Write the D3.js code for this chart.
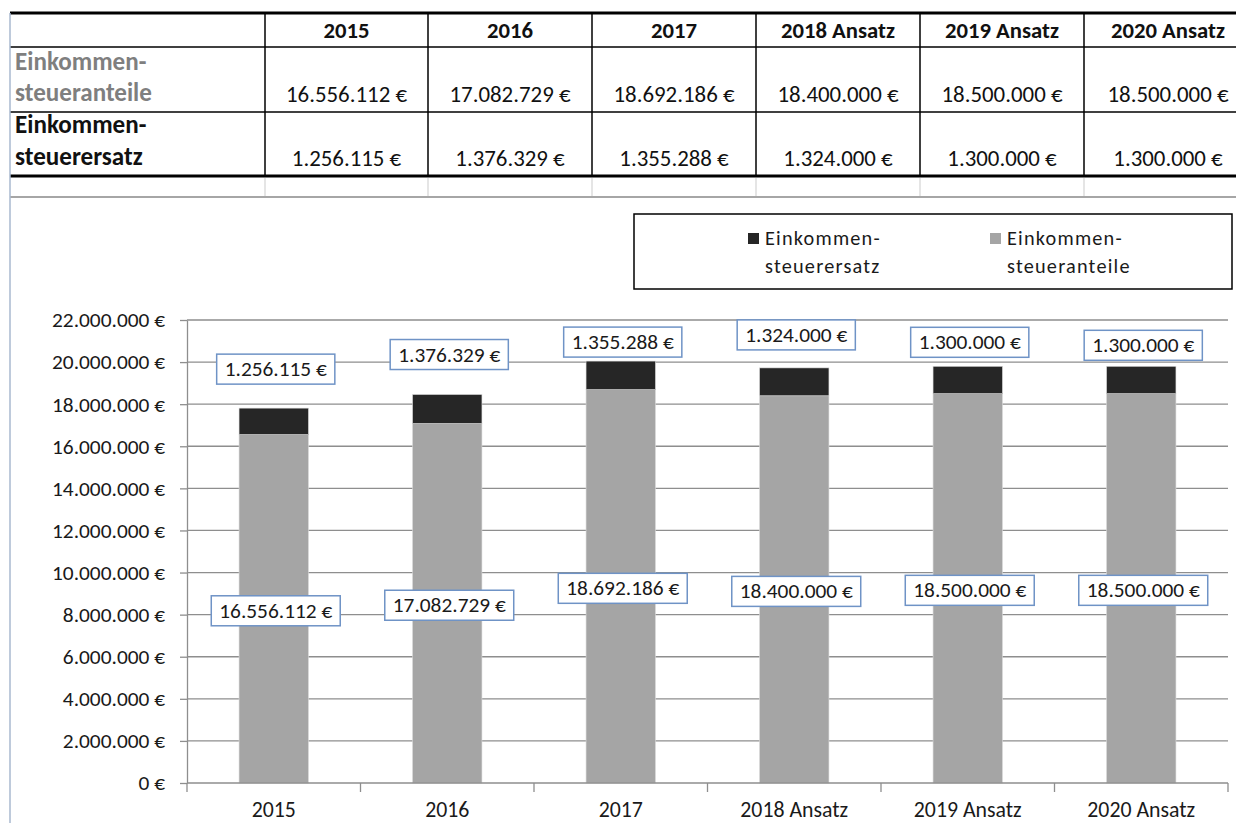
<!DOCTYPE html>
<html>
<head>
<meta charset="utf-8">
<script src="https://cdn.jsdelivr.net/npm/d3@7"></script>
<style>
  html, body { margin: 0; padding: 0; background: #fff; }
  svg { display: block; font-family: Carlito, Calibri, Lato, "Open Sans", sans-serif; }
</style>
</head>
<body>
<svg id="chart" width="1236" height="823"></svg>
<script>
// ---------- data ----------
const categories = ["2015", "2016", "2017", "2018 Ansatz", "2019 Ansatz", "2020 Ansatz"];
const anteile = [16556112, 17082729, 18692186, 18400000, 18500000, 18500000];   // Einkommensteueranteile
const ersatz  = [1256115, 1376329, 1355288, 1324000, 1300000, 1300000];         // Einkommensteuerersatz
const yTicks  = [0, 2e6, 4e6, 6e6, 8e6, 10e6, 12e6, 14e6, 16e6, 18e6, 20e6, 22e6];
const seriesNames = [["Einkommen-", "steuerersatz"], ["Einkommen-", "steueranteile"]];
const rowLabels = [["Einkommen-", "steueranteile"], ["Einkommen-", "steuerersatz"]];

// ---------- layout (manual label nudges as in the original) ----------
const ersatzLabelLift = [39, 40, 19, 33, 24, 21];

const de = d3.formatLocale({decimal: ",", thousands: ".", grouping: [3], currency: ["", " €"]});
const fmt = de.format("$,.0f");

const svg = d3.select("#chart");
const FONT = 'Carlito, Calibri, Lato, "Open Sans", sans-serif';

// measure helper to size fonts to target widths
function fitSize(str, target, weight) {
  const t = svg.append("text").attr("font-size", 100).attr("font-weight", weight || "normal").text(str);
  const w = t.node().getComputedTextLength();
  t.remove();
  return 100 * target / w;
}

const fsY     = fitSize("22.000.000 €", 113);
const fsX     = fitSize("2018 Ansatz", 108);
const fsLab   = fitSize("16.556.112 €", 113);
const fsHead  = fitSize("2018 Ansatz", 114, "bold");
const fsVal   = fitSize("16.556.112 €", 121);
const fsRow   = fitSize("steueranteile", 137, "bold");
const fsLeg   = fitSize("Einkommen-", 104);

// ---------- table ----------
const tbl = svg.append("g");
const colEdges = [10, 265, 428, 592, 756, 920, 1084, 1252];
tbl.append("line").attr("x1", 10).attr("x2", 1236).attr("y1", 13).attr("y2", 13).attr("stroke", "#000").attr("stroke-width", 3);
tbl.append("line").attr("x1", 10).attr("x2", 1236).attr("y1", 47).attr("y2", 47).attr("stroke", "#000").attr("stroke-width", 1.5);
tbl.append("line").attr("x1", 10).attr("x2", 1236).attr("y1", 112).attr("y2", 112).attr("stroke", "#000").attr("stroke-width", 1.5);
tbl.append("line").attr("x1", 10).attr("x2", 1236).attr("y1", 176).attr("y2", 176).attr("stroke", "#000").attr("stroke-width", 3);
tbl.append("line").attr("x1", 10).attr("x2", 1236).attr("y1", 197).attr("y2", 197).attr("stroke", "#a6a6a6").attr("stroke-width", 2);
colEdges.slice(1, 7).forEach(x => {
  tbl.append("line").attr("x1", x).attr("x2", x).attr("y1", 13).attr("y2", 176).attr("stroke", "#000").attr("stroke-width", 1.5);
  tbl.append("line").attr("x1", x).attr("x2", x).attr("y1", 178).attr("y2", 196).attr("stroke", "#dcdcdc").attr("stroke-width", 1.5);
});
// left sheet border
svg.append("line").attr("x1", 10).attr("x2", 10).attr("y1", 13).attr("y2", 823).attr("stroke", "#a9b8cf").attr("stroke-width", 1.5);

categories.forEach((c, i) => {
  const cx = (colEdges[i + 1] + colEdges[i + 2]) / 2;
  tbl.append("text").attr("x", cx).attr("y", 38).attr("text-anchor", "middle")
    .attr("font-size", fsHead).attr("font-weight", "bold").attr("fill", "#111").text(c);
  tbl.append("text").attr("x", cx).attr("y", 102).attr("text-anchor", "middle")
    .attr("font-size", fsVal).attr("fill", "#111").text(fmt(anteile[i]));
  tbl.append("text").attr("x", cx).attr("y", 166).attr("text-anchor", "middle")
    .attr("font-size", fsVal).attr("fill", "#111").text(fmt(ersatz[i]));
});
[[70, 101, "#7f7f7f"], [133, 165, "#111"]].forEach((r, k) => {
  tbl.append("text").attr("x", 15).attr("y", r[0]).attr("font-size", fsRow).attr("font-weight", "bold").attr("fill", r[2]).text(rowLabels[k][0]);
  tbl.append("text").attr("x", 15).attr("y", r[1]).attr("font-size", fsRow).attr("font-weight", "bold").attr("fill", r[2]).text(rowLabels[k][1]);
});

// ---------- chart ----------
const x = d3.scaleBand().domain(categories).range([187, 1228]).paddingInner(0.6).paddingOuter(0.3);
const y = d3.scaleLinear().domain([0, 22e6]).range([783, 320]);
const gridColor = "#8e8e8e";

// gridlines
svg.append("g").selectAll("line").data(yTicks.filter(v => v > 0)).join("line")
  .attr("x1", 187).attr("x2", 1228).attr("y1", d => y(d)).attr("y2", d => y(d))
  .attr("stroke", gridColor).attr("stroke-width", 1.3);

// y axis
const yAxis = svg.append("g").attr("transform", "translate(187,0)")
  .call(d3.axisLeft(y).tickValues(yTicks).tickFormat(fmt).tickSize(7).tickSizeOuter(0).tickPadding(15));
yAxis.select(".domain").attr("stroke", gridColor).attr("stroke-width", 1.3);
yAxis.selectAll(".tick line").attr("stroke", gridColor).attr("stroke-width", 1.3);
yAxis.selectAll("text").attr("font-family", FONT).attr("font-size", fsY).attr("fill", "#1a1a1a");

// bars
const stackData = categories.map((c, i) => ({cat: c, anteile: anteile[i], ersatz: ersatz[i]}));
const stacked = d3.stack().keys(["anteile", "ersatz"])(stackData);
const colors = {anteile: "#a5a5a5", ersatz: "#262626"};
svg.append("g").selectAll("g").data(stacked).join("g")
  .attr("fill", d => colors[d.key])
  .selectAll("rect").data(d => d).join("rect")
  .attr("x", d => x(d.data.cat)).attr("width", x.bandwidth())
  .attr("y", d => y(d[1])).attr("height", d => y(d[0]) - y(d[1]))
  .attr("stroke", "#d9d9d9").attr("stroke-width", 0.6);

// x axis
const xAxis = svg.append("g").attr("transform", "translate(0,783)")
  .call(d3.axisBottom(x).tickSize(0).tickSizeOuter(0).tickPadding(19));
xAxis.select(".domain").attr("stroke", gridColor).attr("stroke-width", 1.3).attr("d", "M187,0H1228");
xAxis.selectAll("text").attr("font-family", FONT).attr("font-size", fsX).attr("fill", "#1a1a1a");
const boundaries = d3.range(categories.length + 1).map(i => x.range()[0] + i * x.step());
svg.append("g").selectAll("line").data(boundaries).join("line")
  .attr("x1", d => d).attr("x2", d => d).attr("y1", 783).attr("y2", 792)
  .attr("stroke", gridColor).attr("stroke-width", 1.3);

// data labels
function addLabel(cx, cy, str) {
  const g = svg.append("g");
  const t = g.append("text").attr("x", cx).attr("y", cy).attr("text-anchor", "middle")
    .attr("dominant-baseline", "central").attr("font-size", fsLab).attr("fill", "#1a1a1a").text(str);
  const w = t.node().getComputedTextLength();
  g.insert("rect", "text").attr("x", cx - w / 2 - 8).attr("y", cy - 15).attr("width", w + 16).attr("height", 30)
    .attr("fill", "#fff").attr("stroke", "#6f93c6").attr("stroke-width", 1.5);
}
stackData.forEach((d, i) => {
  const cx = x(d.cat) + x.bandwidth() / 2 + 2;
  addLabel(cx, y(d.anteile / 2) + 2, fmt(d.anteile));
  addLabel(cx, y(d.anteile + d.ersatz) - ersatzLabelLift[i], fmt(d.ersatz));
});

// ---------- legend ----------
const leg = svg.append("g");
leg.append("rect").attr("x", 634).attr("y", 214).attr("width", 598).attr("height", 75)
  .attr("fill", "#fff").attr("stroke", "#000").attr("stroke-width", 1.5);
[[748, "ersatz", seriesNames[0]], [990, "anteile", seriesNames[1]]].forEach(([lx, key, names]) => {
  leg.append("rect").attr("x", lx).attr("y", 233).attr("width", 11).attr("height", 11).attr("fill", colors[key]);
  leg.append("text").attr("x", lx + 17).attr("y", 245).attr("font-size", fsLeg).attr("letter-spacing", 1.2).attr("fill", "#1a1a1a").text(names[0]);
  leg.append("text").attr("x", lx + 17).attr("y", 273).attr("font-size", fsLeg).attr("letter-spacing", 1.2).attr("fill", "#1a1a1a").text(names[1]);
});
</script>
</body>
</html>
